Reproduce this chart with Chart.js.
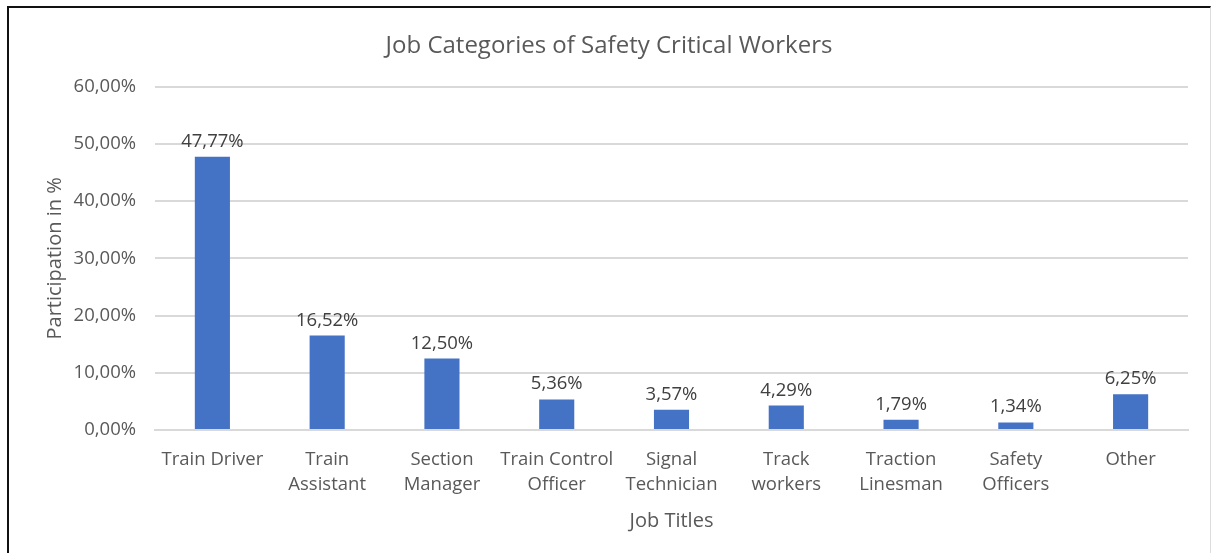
<!DOCTYPE html>
<html>
<head>
<meta charset="utf-8">
<script src="https://cdn.jsdelivr.net/npm/chart.js@4/dist/chart.umd.min.js"></script>
<style>
  html, body { margin: 0; padding: 0; background: #fff; }
  #frame {
    position: absolute; left: 7px; top: 6px; width: 1201px; height: 560px;
    border-top: 2px solid #111; border-left: 2px solid #111; border-right: 1px solid #ddd;
  }
  #wrap { position: absolute; left: 0; top: 0; width: 1201px; height: 545px; }
</style>
</head>
<body>
<div id="frame"><div id="wrap"><canvas id="chart"></canvas></div></div>
<script>
const categories = [
  ["Train Driver"], ["Train", "Assistant"], ["Section", "Manager"], ["Train Control", "Officer"],
  ["Signal", "Technician"], ["Track", "workers"], ["Traction", "Linesman"], ["Safety", "Officers"], ["Other"]
];
const participation = [47.77, 16.52, 12.50, 5.36, 3.57, 4.29, 1.79, 1.34, 6.25];
const yTicks = [0, 10, 20, 30, 40, 50, 60];

const fmt = v => v.toFixed(2).replace(".", ",") + "%";
const grey = "#595959";
const font = "'Open Sans', 'Liberation Sans', sans-serif";

// labels above the bars
const barLabels = {
  id: "barLabels",
  afterDatasetsDraw(chart) {
    const ctx = chart.ctx;
    const meta = chart.getDatasetMeta(0);
    ctx.save();
    ctx.font = "18.5px " + font;
    ctx.fillStyle = "#404040";
    ctx.textAlign = "center";
    ctx.textBaseline = "bottom";
    meta.data.forEach((bar, i) => {
      ctx.fillText(fmt(participation[i]), bar.x, bar.y - 6);
    });
    ctx.restore();
  }
};

new Chart(document.getElementById("chart"), {
  type: "bar",
  data: {
    labels: categories,
    datasets: [{
      data: participation,
      backgroundColor: "#4472c4",
      barPercentage: 0.6,
      categoryPercentage: 0.51
    }]
  },
  options: {
    responsive: true,
    maintainAspectRatio: false,
    animation: false,
    layout: { padding: { top: 24, right: 22, bottom: 20, left: 21 } },
    plugins: {
      legend: { display: false },
      tooltip: { enabled: false },
      title: {
        display: true,
        text: "Job Categories of Safety Critical Workers",
        color: grey,
        font: { family: font, size: 24, weight: "normal" },
        padding: { top: 0, bottom: 26 }
      }
    },
    scales: {
      y: {
        min: 0, max: 60,
        afterBuildTicks: axis => { axis.ticks = yTicks.map(v => ({ value: v })); },
        afterFit: axis => { axis.width = 125; },
        ticks: { color: grey, font: { family: font, size: 18.5 }, padding: 19, callback: v => fmt(v) },
        grid: { color: "#d9d9d9", lineWidth: 2, drawTicks: false },
        border: { display: false },
        title: { display: true, text: "Participation in %", color: grey, font: { family: font, size: 20 }, padding: { top: 13, bottom: 0 } }
      },
      x: {
        ticks: { color: grey, font: { family: font, size: 18.5, lineHeight: 1.35 }, padding: 17, maxRotation: 0, autoSkip: false },
        grid: { display: false, drawTicks: false },
        border: { color: "#d9d9d9", width: 2 },
        title: { display: true, text: "Job Titles", color: grey, font: { family: font, size: 20, lineHeight: 0.75 }, padding: { top: 0 } }
      }
    }
  },
  plugins: [barLabels]
});
</script>
</body>
</html>
